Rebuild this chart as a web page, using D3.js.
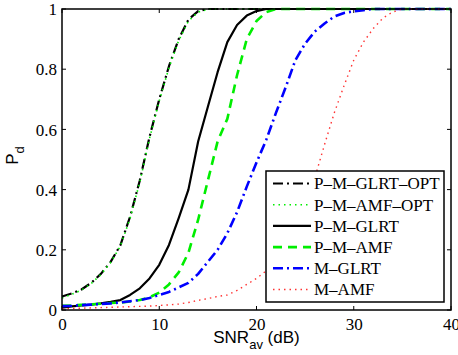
<!DOCTYPE html>
<html><head><meta charset="utf-8">
<script src="https://cdn.jsdelivr.net/npm/d3@7"></script>
<style>html,body{margin:0;padding:0;background:#fff;}svg{display:block;}</style>
</head><body>
<script>
const snr = d3.range(0, 41, 1);
const xTicks = [0, 10, 20, 30, 40];
const yTicks = [0, 0.2, 0.4, 0.6, 0.8, 1];
const yTickLabels = ["0", "0.2", "0.4", "0.6", "0.8", "1"];
const seriesNames = ["P\u2013M\u2013GLRT\u2013OPT", "P\u2013M\u2013AMF\u2013OPT", "P\u2013M\u2013GLRT", "P\u2013M\u2013AMF", "M\u2013GLRT", "M\u2013AMF"];
const pmGlrtOpt = [0.045,0.055,0.068,0.09,0.12,0.16,0.215,0.31,0.43,0.575,0.70,0.81,0.90,0.965,0.993,1,1,1,1,1,1,1,1,1,1,1,1,1,1,1,1,1,1,1,1,1,1,1,1,1,1];
const pmAmfOpt = [0.04,0.052,0.066,0.088,0.118,0.158,0.212,0.305,0.425,0.57,0.695,0.805,0.895,0.96,0.99,0.999,1,1,1,1,1,1,1,1,1,1,1,1,1,1,1,1,1,1,1,1,1,1,1,1,1];
const pmGlrt = [0.008,0.012,0.015,0.018,0.022,0.027,0.033,0.05,0.072,0.105,0.15,0.216,0.305,0.40,0.56,0.675,0.79,0.89,0.947,0.978,0.993,1,1,1,1,1,1,1,1,1,1,1,1,1,1,1,1,1,1,1,1];
const pmAmf = [0.014,0.015,0.017,0.019,0.021,0.023,0.025,0.028,0.033,0.042,0.058,0.085,0.125,0.19,0.30,0.43,0.56,0.635,0.78,0.90,0.96,0.99,1,1,1,1,1,1,1,1,1,1,1,1,1,1,1,1,1,1,1];
const mGlrt = [0.013,0.014,0.016,0.018,0.02,0.022,0.025,0.029,0.033,0.04,0.05,0.06,0.075,0.09,0.12,0.16,0.2,0.255,0.325,0.41,0.49,0.565,0.655,0.74,0.83,0.885,0.925,0.952,0.975,0.987,0.992,0.996,1,1,1,1,1,1,1,1,1];
const mAmf = [0.004,0.005,0.006,0.007,0.008,0.009,0.01,0.011,0.012,0.013,0.015,0.017,0.02,0.025,0.032,0.038,0.045,0.05,0.065,0.085,0.105,0.13,0.18,0.24,0.31,0.38,0.44,0.55,0.655,0.745,0.83,0.89,0.935,0.97,0.99,1,1,1,1,1,1];

const W = 458, H = 355;
const L = 62, R = 451, T = 9, B = 310;
const svg = d3.select("body").append("svg").attr("width", W).attr("height", H);
const x = d3.scaleLinear().domain([0, 40]).range([L, R]);
const y = d3.scaleLinear().domain([0, 1]).range([B, T]);

const styles = [
  {color: "#000000", dash: "10,4,2,4", width: 2.2},
  {color: "#00ee00", dash: "1.5,4", width: 1.6},
  {color: "#000000", dash: null, width: 2.2},
  {color: "#00ee00", dash: "9,6", width: 2.6},
  {color: "#0000ff", dash: "10,4,2,4", width: 2.6},
  {color: "#ff3333", dash: "1.5,4", width: 1.4}
];
const allData = [pmGlrtOpt, pmAmfOpt, pmGlrt, pmAmf, mGlrt, mAmf];

// axes (frame + inward ticks on all sides)
const tickLen = 4;
const axB = d3.axisBottom(x).tickValues(xTicks).tickSize(0).tickFormat(d3.format("d"));
const gB = svg.append("g").attr("transform", `translate(0,${B})`).call(axB);
gB.select(".domain").remove();
gB.selectAll("text").attr("dy", null).attr("y", 20).attr("font-family", "Liberation Serif").attr("font-size", 17).attr("fill", "#000");
const axL = d3.axisLeft(y).tickValues(yTicks).tickSize(0).tickFormat((d, i) => yTickLabels[i]);
const gL = svg.append("g").attr("transform", `translate(${L},0)`).call(axL);
gL.select(".domain").remove();
gL.selectAll("text").attr("x", -5).attr("dy", "0.33em").attr("font-family", "Liberation Serif").attr("font-size", 17).attr("fill", "#000");

const tk = svg.append("g").attr("stroke", "#000").attr("stroke-width", 1);
xTicks.forEach(v => {
  tk.append("line").attr("x1", x(v)).attr("x2", x(v)).attr("y1", B).attr("y2", B - tickLen);
  tk.append("line").attr("x1", x(v)).attr("x2", x(v)).attr("y1", T).attr("y2", T + tickLen);
});
yTicks.forEach(v => {
  tk.append("line").attr("y1", y(v)).attr("y2", y(v)).attr("x1", L).attr("x2", L + tickLen);
  tk.append("line").attr("y1", y(v)).attr("y2", y(v)).attr("x1", R).attr("x2", R - tickLen);
});

// curves
const line = d3.line().x((d, i) => x(snr[i])).y(d => y(d));
allData.forEach((arr, k) => {
  const s = styles[k];
  svg.append("path").datum(arr).attr("d", line).attr("fill", "none")
    .attr("stroke", s.color).attr("stroke-width", s.width)
    .attr("stroke-dasharray", s.dash).attr("stroke-linejoin", "round");
});

// frame
svg.append("rect").attr("x", L).attr("y", T).attr("width", R - L).attr("height", B - T)
  .attr("fill", "none").attr("stroke", "#000").attr("stroke-width", 1.5);

// legend
const lg = svg.append("g");
lg.append("rect").attr("x", 266).attr("y", 171).attr("width", 178).attr("height", 131)
  .attr("fill", "#fff").attr("stroke", "#000").attr("stroke-width", 1.5);
seriesNames.forEach((name, k) => {
  const s = styles[k];
  const yy = 183.5 + k * 21.2;
  lg.append("line").attr("x1", 273).attr("x2", 311).attr("y1", yy).attr("y2", yy)
    .attr("stroke", s.color).attr("stroke-width", s.width).attr("stroke-dasharray", s.dash);
  lg.append("text").attr("x", 314).attr("y", yy).attr("dy", "0.35em")
    .attr("font-family", "Liberation Serif").attr("font-size", 17).attr("fill", "#000").text(name);
});

// axis labels
const xl = svg.append("text").attr("x", (L + R) / 2).attr("y", 343).attr("text-anchor", "middle")
  .attr("font-family", "Liberation Sans").attr("font-size", 17).attr("fill", "#000");
xl.append("tspan").text("SNR");
xl.append("tspan").attr("dy", 6).attr("font-size", 13).text("av");
xl.append("tspan").attr("dy", -6).text(" (dB)");

const yl = svg.append("text").attr("transform", `translate(18,${(T + B) / 2 - 4}) rotate(-90)`)
  .attr("text-anchor", "middle").attr("font-family", "Liberation Sans").attr("font-size", 17).attr("fill", "#000");
yl.append("tspan").text("P");
yl.append("tspan").attr("dy", 6).attr("font-size", 13).text("d");
</script>
</body></html>
